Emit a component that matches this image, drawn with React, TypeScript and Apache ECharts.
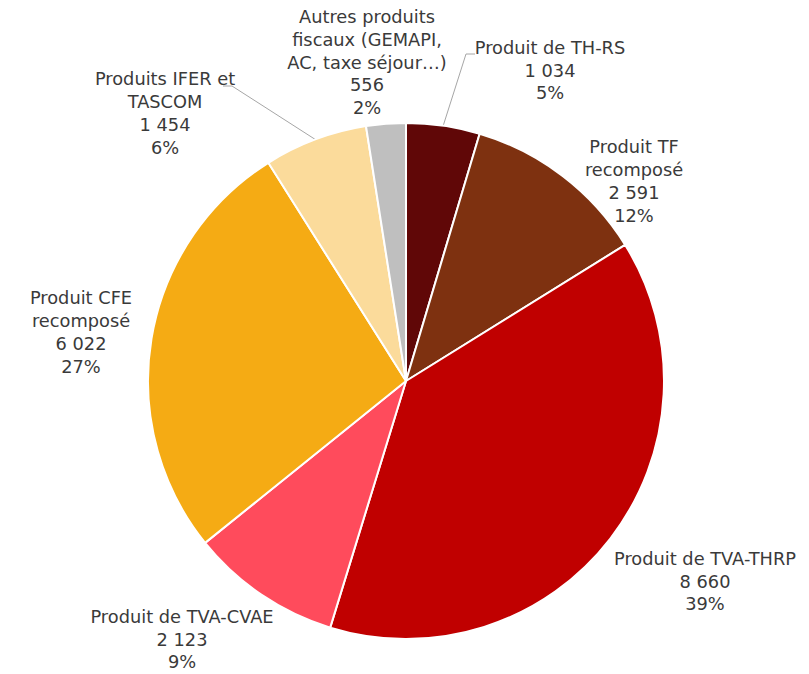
import React, { useEffect, useRef } from "react";
import * as echarts from "echarts";

const categories = [
  "Produit de TH-RS",
  "Produit TF\nrecomposé",
  "Produit de TVA-THRP",
  "Produit de TVA-CVAE",
  "Produit CFE\nrecomposé",
  "Produits IFER et\nTASCOM",
  "Autres produits\nfiscaux (GEMAPI,\nAC, taxe séjour…)",
];
const values = [1034, 2591, 8660, 2123, 6022, 1454, 556];
const colors = ["#600707", "#7e3110", "#c00000", "#ff4b5c", "#f5ab14", "#fbdb9b", "#bfbfbf"];
const showLine = [true, false, false, false, false, true, false];
const labelPos: [number, number][] = [
  [550, 70],
  [634, 181],
  [705, 581],
  [182, 639],
  [81, 332],
  [165, 113],
  [367, 62],
];
// label-side end of leader lines (elbow then end)
const lineEnds: Record<number, [number, number][]> = {
  0: [[466, 54], [475, 54]],
  5: [[232, 86], [223, 86]],
};

const fmt = (v: number) => String(v).replace(/\B(?=(\d{3})+(?!\d))/g, " ");

export default function App() {
  const ref = useRef<HTMLDivElement>(null);
  useEffect(() => {
    const chart = echarts.init(ref.current!, null, { renderer: "svg" });
    chart.setOption({
      animation: false,
      backgroundColor: "#ffffff",
      series: [
        {
          type: "pie",
          center: [406, 381],
          radius: [0, 258],
          startAngle: 90,
          clockwise: true,
          avoidLabelOverlap: false,
          itemStyle: { borderColor: "#ffffff", borderWidth: 2 },
          label: {
            show: true,
            position: "outside",
            fontFamily: "DejaVu Sans",
            fontSize: 17.8,
            lineHeight: 22.8,
            color: "#3a3a3a",
            align: "center",
            formatter: (p: any) => `${p.name}\n${fmt(p.value)}\n${Math.round(p.percent)}%`,
          },
          labelLine: { show: false, lineStyle: { color: "#a6a6a6", width: 1 } },
          labelLayout: (p: any) => {
            const pos = labelPos[p.dataIndex];
            const res: any = { x: pos[0], y: pos[1], align: "center", verticalAlign: "middle" };
            const ends = lineEnds[p.dataIndex];
            if (ends && p.labelLinePoints) {
              res.labelLinePoints = [p.labelLinePoints[0], ends[0], ends[1]];
            }
            return res;
          },
          data: categories.map((name, i) => ({
            name,
            value: values[i],
            itemStyle: { color: colors[i] },
            labelLine: { show: showLine[i], length: 10, length2: 10 },
          })),
        },
      ],
    });
    return () => chart.dispose();
  }, []);
  return (
    <div
      ref={ref}
      style={{ position: "fixed", left: 0, top: 0, width: 809, height: 674 }}
    />
  );
}
